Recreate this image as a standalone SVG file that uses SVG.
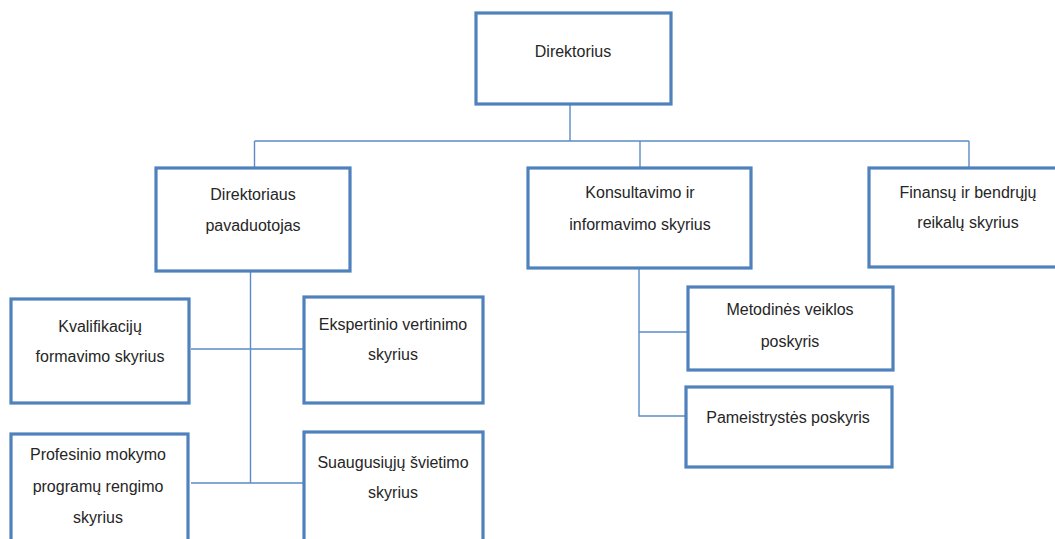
<svg xmlns="http://www.w3.org/2000/svg" width="1055" height="539" viewBox="0 0 1055 539">
<style>
.box{fill:#fff;stroke:#4F81BD;stroke-width:3.2}
.lbl{font-family:"Liberation Sans",Arial,sans-serif;font-size:16px;fill:#262626;text-anchor:middle}
.con{fill:none;stroke:#5B8CC8;stroke-width:1.4}
</style>
<rect width="1055" height="539" fill="#fff"/>
<g id="connectors" class="con">
<path d="M570 104V141M254.5 141H969M254.5 141V168M640 141V168M969 141V168"/>
<path d="M250.5 271V483M191 349H304M191 483H304"/>
<path d="M639 268V416H686M639 332H688"/>
</g>
<g id="n-direktorius"><rect class="box" x="476" y="13" width="195" height="91"/><text class="lbl" x="573" y="57">Direktorius</text></g>
<g id="n-pavaduotojas"><rect class="box" x="156" y="168" width="194" height="103"/><text class="lbl" x="253" y="200">Direktoriaus</text><text class="lbl" x="253" y="231">pavaduotojas</text></g>
<g id="n-konsultavimo"><rect class="box" x="528" y="168" width="223" height="100"/><text class="lbl" x="640" y="198">Konsultavimo ir</text><text class="lbl" x="640" y="230">informavimo skyrius</text></g>
<g id="n-finansu"><rect class="box" x="869" y="168" width="200" height="99"/><text class="lbl" x="968" y="198">Finansų ir bendrųjų</text><text class="lbl" x="968" y="228">reikalų skyrius</text></g>
<g id="n-kvalifikaciju"><rect class="box" x="11" y="299" width="178" height="104"/><text class="lbl" x="100" y="332">Kvalifikacijų</text><text class="lbl" x="100" y="362">formavimo skyrius</text></g>
<g id="n-ekspertinio"><rect class="box" x="304" y="297" width="179" height="106"/><text class="lbl" x="393" y="330">Ekspertinio vertinimo</text><text class="lbl" x="393" y="360">skyrius</text></g>
<g id="n-profesinio"><rect class="box" x="11" y="434" width="177" height="120"/><text class="lbl" x="98" y="460">Profesinio mokymo</text><text class="lbl" x="98" y="492">programų rengimo</text><text class="lbl" x="98" y="523">skyrius</text></g>
<g id="n-suaugusiuju"><rect class="box" x="304" y="432" width="179" height="120"/><text class="lbl" x="393" y="468">Suaugusiųjų švietimo</text><text class="lbl" x="393" y="498">skyrius</text></g>
<g id="n-metodines"><rect class="box" x="688" y="287" width="205" height="83"/><text class="lbl" x="790" y="315">Metodinės veiklos</text><text class="lbl" x="790" y="347">poskyris</text></g>
<g id="n-pameistrystes"><rect class="box" x="686" y="387" width="206" height="80"/><text class="lbl" x="788" y="423">Pameistrystės poskyris</text></g>
</svg>
